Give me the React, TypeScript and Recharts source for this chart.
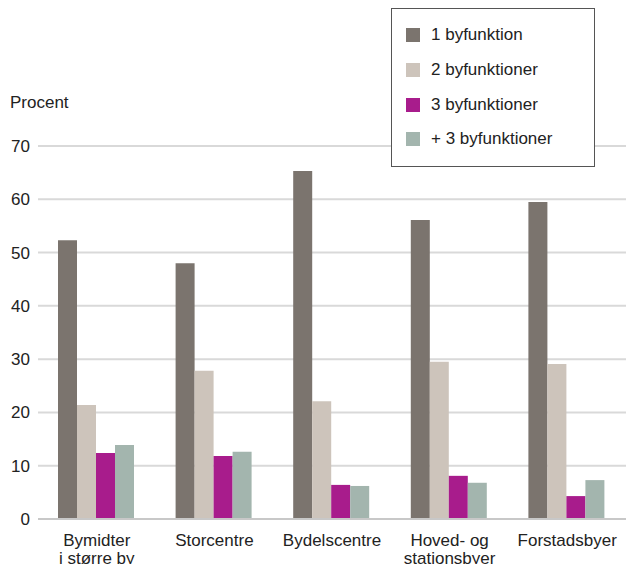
import React from "react";
import { BarChart, Bar, XAxis, YAxis, CartesianGrid } from "recharts";

const categories = ["Bymidter\ni større by", "Storcentre", "Bydelscentre", "Hoved- og\nstationsbyer", "Forstadsbyer"];
const seriesNames = ["1 byfunktion", "2 byfunktioner", "3 byfunktioner", "+ 3 byfunktioner"];
const en = [52.3, 48.0, 65.3, 56.1, 59.5];
const to = [21.4, 27.8, 22.1, 29.5, 29.1];
const tre = [12.4, 11.8, 6.4, 8.1, 4.3];
const flere = [13.9, 12.6, 6.2, 6.8, 7.3];
const yTicks = [0, 10, 20, 30, 40, 50, 60, 70];

const colors = ["#7b746e", "#cdc4bb", "#a81c8c", "#a3b5ae"];
const keys = ["s1", "s2", "s3", "s4"];
const font = "'Liberation Sans', Arial, sans-serif";

const data = categories.map((c, i) => ({
    name: c,
    s1: en[i],
    s2: to[i],
    s3: tre[i],
    s4: flere[i],
}));

const CategoryTick = (props: any) => {
    const { x, y, payload } = props;
    const lines = String(payload.value).split("\n");
    return (
        <text x={x} y={y} textAnchor="middle" fill="#222" fontSize={17} fontFamily={font}>
            {lines.map((l, i) => (
                <tspan key={i} x={x} dy={i === 0 ? 19 : 18}>{l}</tspan>
            ))}
        </text>
    );
};

export default function App() {
    return (
        <div style={{ position: "absolute", left: 0, top: 0, width: 626, height: 564, background: "#fff", overflow: "hidden" }}>
            <div style={{ position: "absolute", left: 10, top: 93, fontFamily: font, fontSize: 17, color: "#222" }}>
                Procent
            </div>
            <BarChart
                width={626}
                height={564}
                data={data}
                margin={{ top: 146, right: 0, bottom: 0, left: 0 }}
                barCategoryGap={20}
                barGap={0}
            >
                <CartesianGrid vertical={false} stroke="#d9d9d9" strokeWidth={2} />
                <XAxis
                    dataKey="name"
                    height={45}
                    tickLine={false}
                    axisLine={{ stroke: "#c8c8c8", strokeWidth: 2 }}
                    tick={<CategoryTick />}
                    interval={0}
                />
                <YAxis
                    width={38}
                    domain={[0, 70]}
                    ticks={yTicks}
                    axisLine={false}
                    tickLine={false}
                    tick={{ fill: "#222", fontSize: 17, fontFamily: font }}
                />
                {keys.map((k, i) => (
                    <Bar key={k} dataKey={k} name={seriesNames[i]} fill={colors[i]} isAnimationActive={false} />
                ))}
            </BarChart>
            <div
                style={{
                    position: "absolute",
                    left: 391,
                    top: 8,
                    width: 204,
                    height: 159,
                    boxSizing: "border-box",
                    border: "1px solid #555",
                    background: "#fff",
                    paddingTop: 9,
                    paddingLeft: 14,
                    fontFamily: font,
                    fontSize: 17,
                    color: "#222",
                }}
            >
                {seriesNames.map((n, i) => (
                    <div key={n} style={{ display: "flex", alignItems: "center", height: 34.7 }}>
                        <span style={{ width: 14, height: 14, background: colors[i], marginRight: 11, display: "inline-block" }} />
                        <span>{n}</span>
                    </div>
                ))}
            </div>
        </div>
    );
}
